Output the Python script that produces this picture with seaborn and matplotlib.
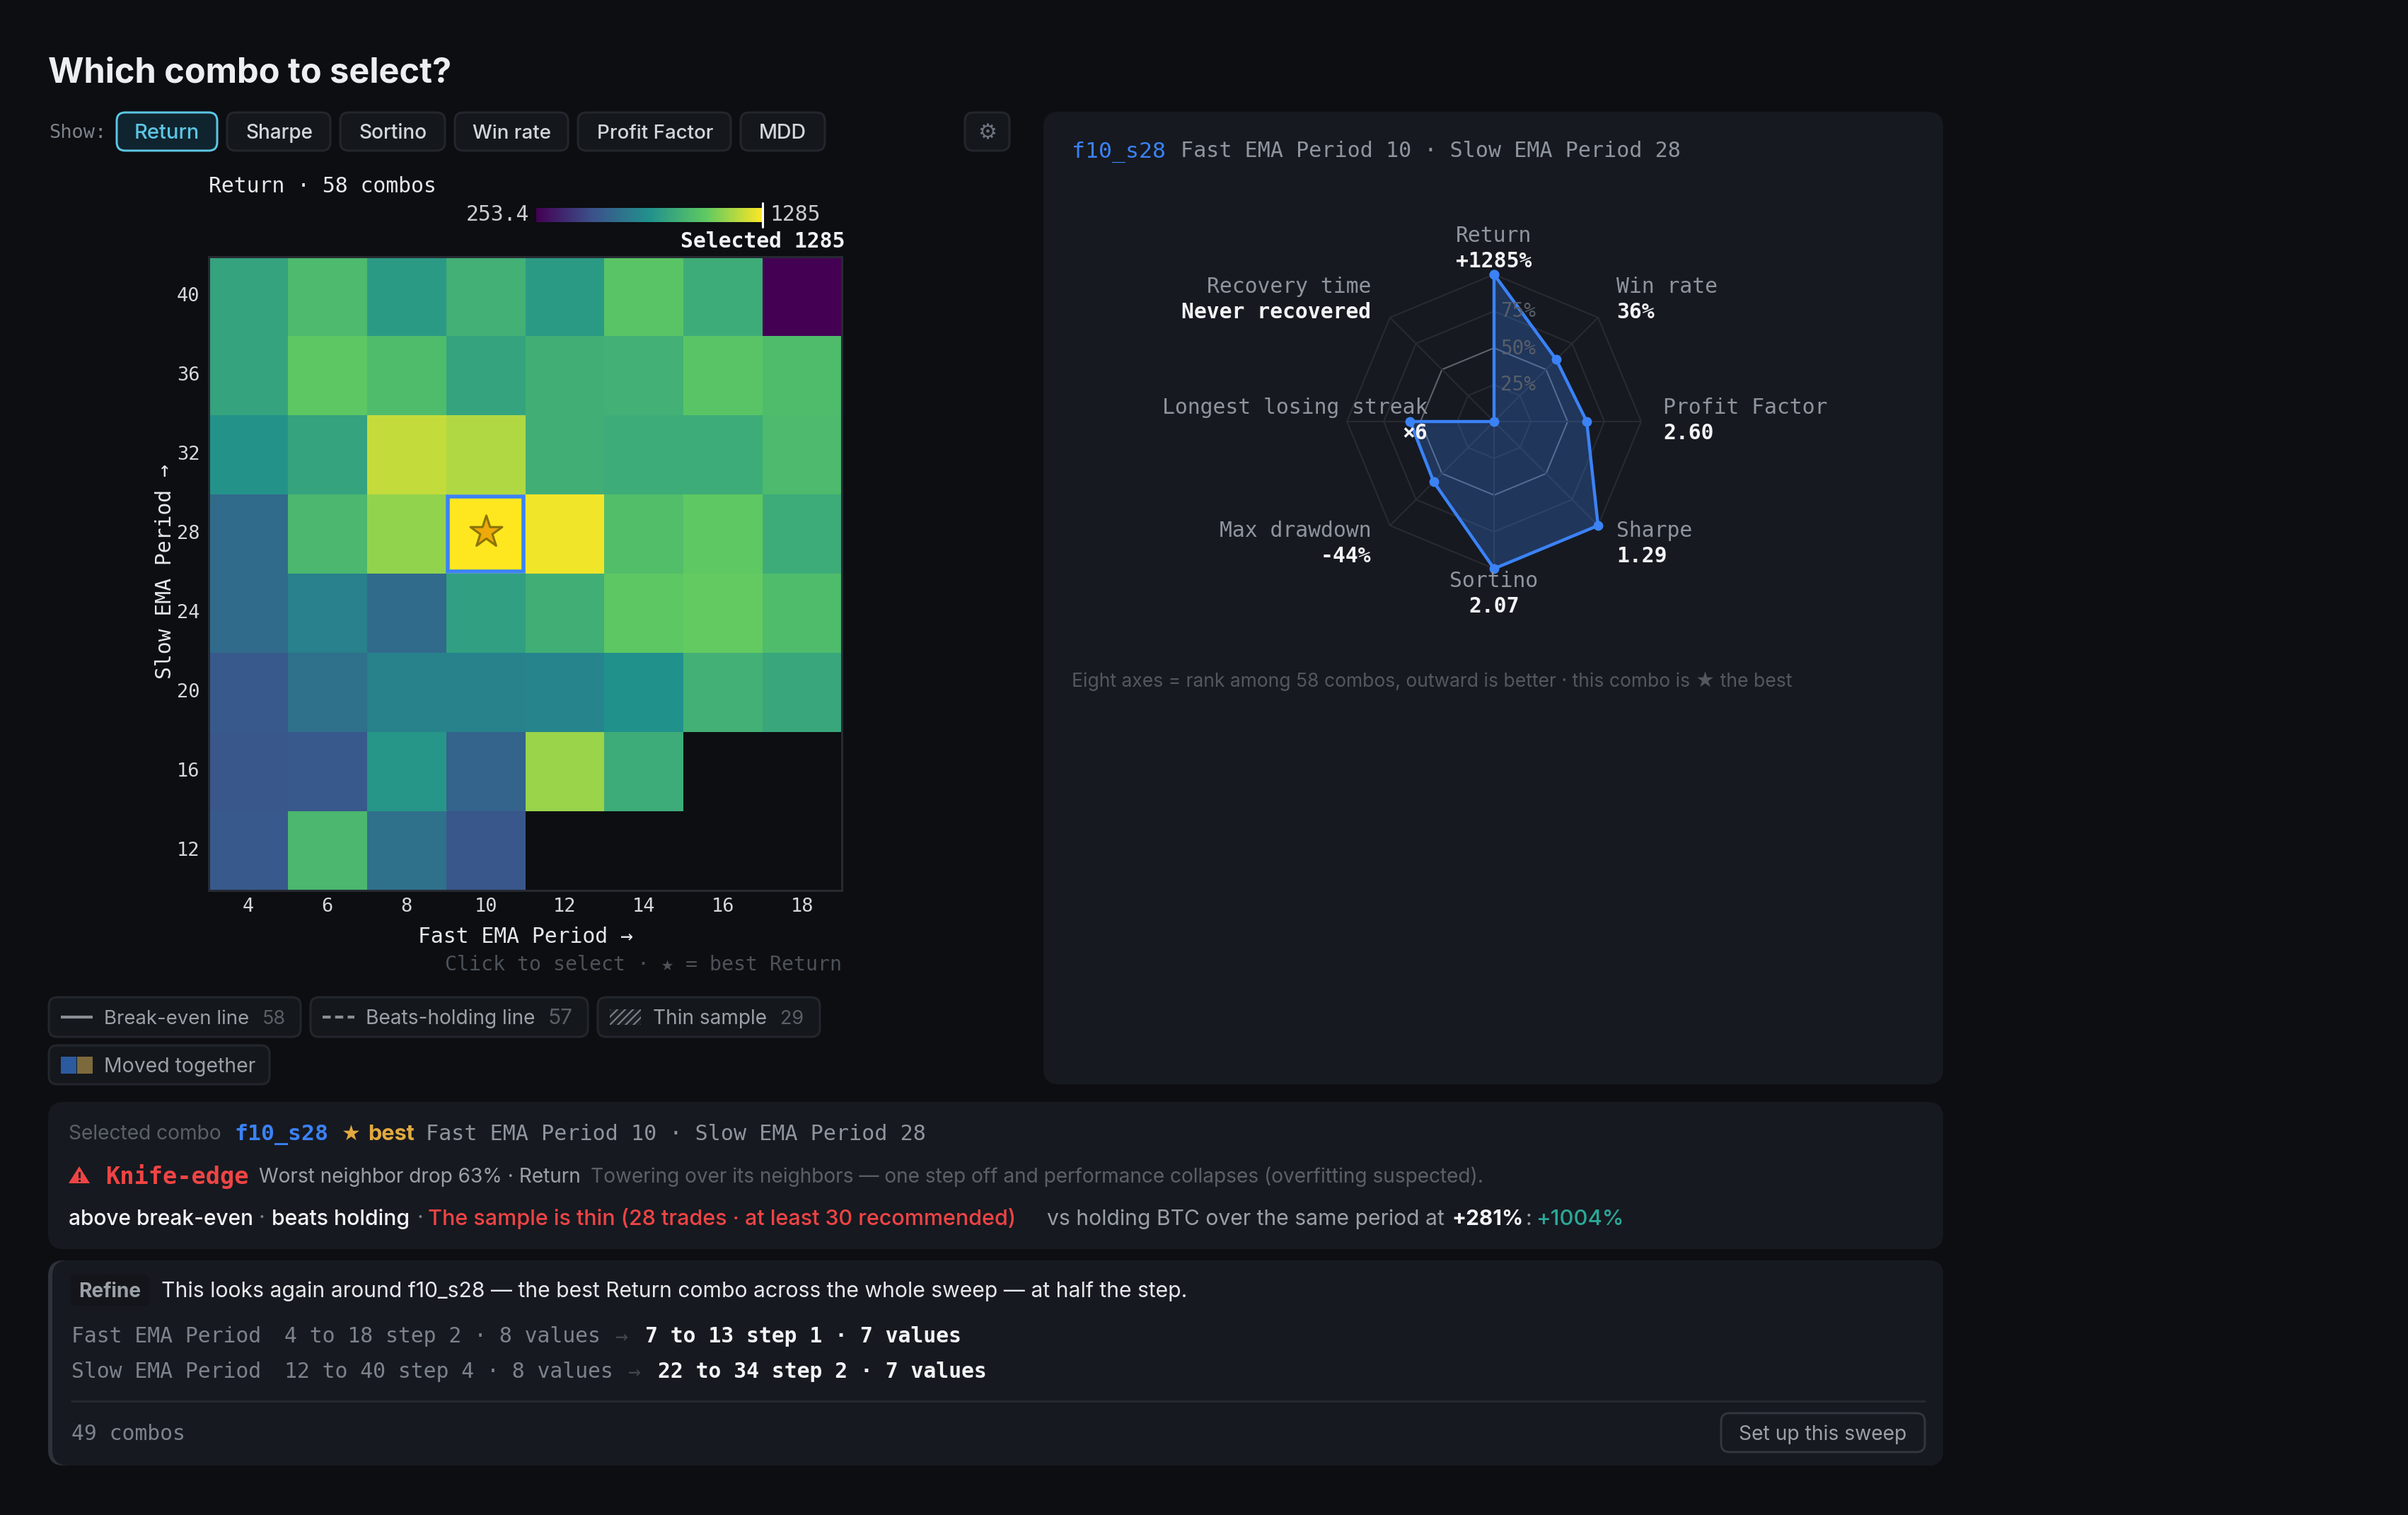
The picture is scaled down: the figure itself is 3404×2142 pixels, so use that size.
import numpy as np
import pandas as pd
import matplotlib
matplotlib.use("Agg")
import matplotlib.pyplot as plt
from matplotlib.colors import LinearSegmentedColormap
from matplotlib.patches import FancyBboxPatch, Rectangle, Polygon
import seaborn as sns

W, H = 3404, 2142
fast_periods = [4, 6, 8, 10, 12, 14, 16, 18]
slow_periods = [40, 36, 32, 28, 24, 20, 16, 12]
n = np.nan
row_40 = [852, 958, 810, 912, 810, 1006, 893, 253.4]
row_36 = [852, 1017, 965, 852, 903, 914, 1006, 965]
row_32 = [780, 852, 1192, 1157, 903, 893, 893, 955]
row_28 = [614, 945, 1110, 1285, 1264, 975, 1027, 893]
row_24 = [614, 704, 614, 831, 903, 1017, 1032, 965]
row_20 = [542, 635, 707, 707, 718, 769, 914, 872]
row_16 = [532, 542, 790, 583, 1120, 893, n, n]
row_12 = [542, 945, 635, 532, n, n, n, n]
selected_fast, selected_slow = 10, 28
scale_colors = ["#440154", "#3b528b", "#21918c", "#5ec962", "#fde725"]

radar_axes = ["Return", "Win rate", "Profit Factor", "Sharpe", "Sortino",
              "Max drawdown", "Longest losing streak", "Recovery time"]
radar_ranks = [1.0, 0.597, 0.63, 1.0, 1.0, 0.58, 0.57, 0.0]
radar_values = ["+1285%", "36%", "2.60", "1.29", "2.07", "-44%", "×6", "Never recovered"]
grid_levels = [0.25, 0.5, 0.75, 1.0]

BG, PANEL = "#0c0e12", "#161920"
MONO, SANS = ["DejaVu Sans Mono"], ["Inter", "DejaVu Sans"]
BLUE, RED, AMBER, TEAL = "#3b82f6", "#ef4444", "#e2a93f", "#2aa898"
GRAY, DIM, SOFT, WHITE = "#9aa0a6", "#5b6067", "#7d838b", "#f2f3f5"

sns.set_theme(style="white")
plt.rcParams["font.family"] = SANS
plt.rcParams["hatch.linewidth"] = 1.6
fig = plt.figure(figsize=(W / 100, H / 100), dpi=100, facecolor=BG)


def px_axes(x0, y0, x1, y1, **kw):
    return fig.add_axes([x0 / W, 1 - y1 / H, (x1 - x0) / W, (y1 - y0) / H], **kw)


bg = px_axes(0, 0, W, H, zorder=0)
top = px_axes(0, 0, W, H, zorder=10)
for a in (bg, top):
    a.set_xlim(0, W)
    a.set_ylim(H, 0)
    a.axis("off")
top.patch.set_alpha(0)


def box(x0, y0, x1, y1, fc, ec="none", r=14, lw=0, ax=bg, z=1):
    ax.add_patch(FancyBboxPatch((x0, y0), x1 - x0, y1 - y0,
                                boxstyle=f"round,pad=0,rounding_size={r}",
                                fc=fc, ec=ec, lw=lw * 0.72, zorder=z))


def T(x, y, s, px=30, c=GRAY, fam=MONO, w="normal", ha="left", to=None, rot=0):
    t = top.text(x, y + 0.35 * px if rot == 0 else y, s, fontsize=px * 0.72, color=c,
                 family=fam, weight=w, ha=ha, va="baseline" if rot == 0 else "center",
                 rotation=rot)
    if to is not None:
        t.set_fontsize(t.get_fontsize() * to / t.get_window_extent(fig.canvas.get_renderer()).width)
    return t


# ---- panels
box(1475, 158, 2747, 1533, PANEL, r=22)
box(68, 1558, 2747, 1766, PANEL, r=22)
box(68, 1782, 2747, 2072, "#2e323a", r=22)
box(74, 1782, 2747, 2072, PANEL, r=22, z=2)

# ---- header
T(68, 98, "Which combo to select?", 52, "#eceef0", SANS, "bold", to=571)
T(69, 186, "Show:", 27, SOFT)
buttons = [("Return", 165, 307, 190, 92), ("Sharpe", 321, 467, 347, 95), ("Sortino", 481, 629, 507, 96),
           ("Win rate", 643, 803, 668, 111), ("Profit Factor", 817, 1033, 844, 164), ("MDD", 1047, 1166, 1073, 67)]
for i, (label, x0, x1, tx, tw) in enumerate(buttons):
    on = i == 0
    box(x0, 159, x1, 213, "#10242f" if on else "#14171c", "#5cc6e4" if on else "#23262c", 12, 3)
    T(tx, 186, label, 30, "#5cc6e4" if on else "#d3d6da", SANS, "medium", to=tw)
box(1364, 159, 1427, 213, "#14171c", "#23262c", 12, 3)
T(1396, 186, "⚙", 30, "#6f7680", ["DejaVu Sans"], ha="center")

# ---- heatmap
matrix = pd.DataFrame([row_40, row_36, row_32, row_28, row_24, row_20, row_16, row_12],
                      index=slow_periods, columns=fast_periods)
cmap = LinearSegmentedColormap.from_list("sweep", scale_colors)
ax = px_axes(295, 363, 1190, 1259, zorder=3)
ax.set_facecolor(BG)
cax = px_axes(758, 294, 1078, 314, zorder=3)
vmin, vmax = np.nanmin(matrix.values), np.nanmax(matrix.values)
sns.heatmap(matrix, cmap=cmap, vmin=vmin, vmax=vmax, ax=ax, cbar_ax=cax,
            cbar_kws={"orientation": "horizontal"}, linewidths=0)
cb = ax.collections[0].colorbar
cb.set_ticks([])
cb.outline.set_visible(False)
cax.axvline(vmax, ymin=-0.35, ymax=1.35, color="white", lw=2.2, clip_on=False)
ax.tick_params(axis="x", length=0, colors="#d5d8dc", labelsize=27 * 0.72, pad=7)
ax.tick_params(axis="y", length=0, colors="#d5d8dc", labelsize=27 * 0.72, pad=9)
plt.setp(ax.get_xticklabels(), family=MONO, rotation=0)
plt.setp(ax.get_yticklabels(), family=MONO, rotation=0)
ax.set_xlabel("")
ax.set_ylabel("")
for s in ax.spines.values():
    s.set_visible(True)
    s.set_color("#262a31")
    s.set_linewidth(2.2)
ci, ri = fast_periods.index(selected_fast), slow_periods.index(selected_slow)
inset = 0.025
ax.add_patch(Rectangle((ci + inset, ri + inset), 1 - 2 * inset, 1 - 2 * inset,
                       fc="#ffe720", ec=BLUE, lw=4, zorder=5))
ax.scatter([ci + 0.5], [ri + 0.47], marker="*", s=1150, c="#eea90a",
           edgecolors="#8a7408", linewidths=2.2, zorder=6)

T(295, 262, "Return · 58 combos", 29.8, "#e6e8eb")
T(748, 302, "253.4", 29.8, "#c9ccd1", ha="right")
T(1088, 302, "1285", 29.8, "#c9ccd1")
T(1194, 340, "Selected 1285", 29.8, WHITE, ha="right", w="bold")
T(743, 1323, "Fast EMA Period →", 29.8, "#e6e8eb", ha="center")
T(234, 808, "Slow EMA Period →", 29.8, "#e6e8eb", ha="center", rot=90)
T(1190, 1362, "Click to select · ★ = best Return", 28.2, "#4d5259", ha="right")

# ---- chips
for x0, y0, x1, y1 in [(69, 1410, 425, 1466), (439, 1410, 831, 1466), (845, 1410, 1159, 1466), (69, 1478, 381, 1533)]:
    box(x0, y0, x1, y1, "#14171c", "#23262c", 12, 3)
bg.plot([86, 131], [1438, 1438], color="#8a8f96", lw=3, zorder=3, solid_capstyle="butt")
bg.plot([456, 501], [1438, 1438], color="#8a8f96", lw=3, zorder=3, ls=(0, (2.75, 1.5)), dash_capstyle="butt")
bg.add_patch(Rectangle((862, 1427), 44, 22, fc="#1b1e23", ec="#7a7f86", hatch="///", lw=0, zorder=3))
bg.add_patch(Rectangle((86, 1494), 22, 24, fc="#2c5a9e", lw=0, zorder=3))
bg.add_patch(Rectangle((109, 1494), 22, 24, fc="#7d6a3c", lw=0, zorder=3))
for x, s, tw, c, y in [(147, "Break-even line", 206, GRAY, 1438), (371, "58", 33, DIM, 1438),
                       (517, "Beats-holding line", 241, GRAY, 1438), (775, "57", 35, DIM, 1438),
                       (923, "Thin sample", 162, GRAY, 1438), (1103, "29", 33, DIM, 1438),
                       (147, "Moved together", 214, GRAY, 1506)]:
    T(x, y, s, 30, c, SANS, to=tw)

# ---- radar
theta = np.linspace(0, 2 * np.pi, len(radar_axes), endpoint=False)
R = 208
rad = px_axes(2112 - R, 596 - R, 2112 + R, 596 + R, projection="polar", zorder=4)
rad.patch.set_alpha(0)
rad.set_theta_zero_location("N")
rad.set_theta_direction(-1)
rad.set_ylim(0, 1)
rad.axis("off")
closed = np.append(theta, theta[0])
for lv in grid_levels:
    mid = lv == 0.5
    rad.plot(closed, [lv] * len(closed), color="#5e636b" if mid else "#282b31", lw=1.5, zorder=1, clip_on=False)
for th in theta:
    rad.plot([th, th], [0, 1], color="#282b31", lw=1.5, zorder=1, clip_on=False)
ranks_closed = radar_ranks + radar_ranks[:1]
rad.fill(closed, ranks_closed, color=BLUE, alpha=0.28, lw=0, zorder=2)
sns.lineplot(x=closed, y=ranks_closed, sort=False, estimator=None, ax=rad, color=BLUE, lw=3.2, zorder=3,
             marker="o", markersize=10, markeredgewidth=0, clip_on=False)
rad.set_xlabel("")
rad.set_ylabel("")
for lv, y in zip(grid_levels[:3], [542, 491, 438]):
    T(2121, y, f"{int(lv * 100)}%", 27.6, "#585e69")

T(1515, 212, "f10_s28", 31.5, BLUE, w="medium")
T(1669, 212, "Fast EMA Period 10 · Slow EMA Period 28", 30, "#8f959c")
layout = [(2112, 332, "center"), (2285, 404, "left"), (2351, 575, "left"), (2285, 749, "left"),
          (2112, 820, "center"), (1938, 749, "right"), (2018, 575, "right"), (1938, 404, "right")]
for (x, y, ha), name, val in zip(layout, radar_axes, radar_values):
    T(x, y, name, 29.8, "#8f959c", ha=ha)
    T(x, y + 36, val, 29.8, WHITE, ha=ha, w="bold")
T(1515, 961, "Eight axes = rank among 58 combos, outward is better · this combo is ★ the best", 28, "#53585f", SANS, to=1015)

# ---- selected combo panel
T(97, 1601, "Selected combo", 29, DIM, SANS, to=217)
T(331, 1601, "f10_s28", 31.5, BLUE, w="bold")
T(482, 1601, "★", 30, AMBER, ["DejaVu Sans"])
T(520, 1601, "best", 30, AMBER, SANS, "bold", to=66)
T(602, 1601, "Fast EMA Period 10 · Slow EMA Period 28", 30, "#8f959c")
top.add_patch(Polygon([(112, 1649), (127, 1673), (97, 1673)], fc=RED, lw=0))
top.add_patch(Rectangle((110.5, 1657), 3, 9, fc=PANEL, lw=0))
top.add_patch(Rectangle((110.5, 1668), 3, 3, fc=PANEL, lw=0))
T(149, 1662, "Knife-edge", 33.7, RED, w="bold")
T(366, 1662, "Worst neighbor drop 63% · Return", 29, GRAY, SANS, to=456)
T(835, 1662, "Towering over its neighbors — one step off and performance collapses (overfitting suspected).", 29, DIM, SANS, to=1267)
T(97, 1721, "above break-even", 30, WHITE, SANS, "medium", to=261)
T(366, 1721, "·", 30, SOFT, SANS)
T(384, 1721, "beats holding", 30, WHITE, SANS, "medium", to=195)
T(590, 1721, "·", 30, SOFT, SANS)
T(605, 1721, "The sample is thin (28 trades · at least 30 recommended)", 30, RED, SANS, "medium", to=830)
T(1480, 1721, "vs holding BTC over the same period at", 30, GRAY, SANS, to=561)
T(2052, 1721, "+281%", 30, WHITE, SANS, "bold", to=101)
T(2157, 1721, ":", 30, GRAY, SANS)
T(2171, 1721, "+1004%", 30, TEAL, SANS, "medium", to=124)

# ---- refine panel
box(100, 1802, 211, 1846, "#13151a", r=8, z=3)
T(111, 1824, "Refine", 28, GRAY, SANS, "bold", to=88)
T(228, 1824, "This looks again around f10_s28 — the best Return combo across the whole sweep — at half the step.", 30, "#e6e8eb", SANS, to=1451)
T(101, 1888, "Fast EMA Period", 29.8, SOFT)
T(402, 1888, "4 to 18 step 2 · 8 values", 29.8, SOFT)
T(870, 1888, "→", 29.8, "#41454c")
T(912, 1888, "7 to 13 step 1 · 7 values", 29.8, WHITE, w="bold")
T(101, 1938, "Slow EMA Period", 29.8, SOFT)
T(402, 1938, "12 to 40 step 4 · 8 values", 29.8, SOFT)
T(888, 1938, "→", 29.8, "#41454c")
T(930, 1938, "22 to 34 step 2 · 7 values", 29.8, WHITE, w="bold")
bg.plot([101, 2721], [1981, 1981], color="#272a30", lw=2, zorder=3)
T(101, 2026, "49 combos", 29.8, SOFT)
box(2433, 1998, 2721, 2053, PANEL, "#32363d", 12, 3, z=3)
T(2577, 2026, "Set up this sweep", 30, GRAY, SANS, ha="center", to=238)

fig.savefig("out.png", dpi=100, facecolor=BG)
